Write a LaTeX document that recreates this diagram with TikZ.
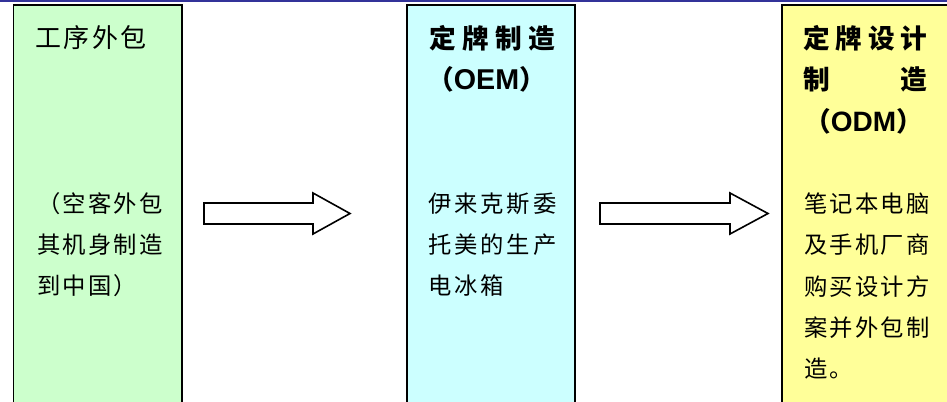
\documentclass[tikz,border=0pt]{standalone}
\usepackage{fontspec}
\newfontfamily\cjk{Noto Sans CJK SC}
\newfontfamily\arl{Liberation Sans}
\newdimen\pxu \pxu=0.75pt
\def\spcEnd{}
\def\spc#1#2{\def\spcw{#1}\spcA#2\spcEnd}
\def\spcA#1{\ifx#1\spcEnd\else\makebox[\spcw][l]{#1}\expandafter\spcA\fi}
\definecolor{gbox}{HTML}{CCFFCC}
\definecolor{cbox}{HTML}{CCFFFF}
\definecolor{ybox}{HTML}{FFFF99}
\definecolor{topline}{HTML}{333399}
\tikzset{
  colbox/.style={draw=black,line width=1.6\pxu},
  blockarrow/.style={draw=black,fill=white,line width=1.6\pxu,line join=miter},
  bodytxt/.style={anchor=west,inner sep=0pt,font=\cjk\fontsize{17.5}{20}\selectfont},
  gtitle/.style={anchor=west,inner sep=0pt,font=\cjk\fontsize{19.5}{22}\selectfont},
  btitle/.style={anchor=west,inner sep=0pt,font=\cjk\bfseries\fontsize{20}{24}\selectfont},
}
\begin{document}
\begin{tikzpicture}[x=0.75pt,y=-0.75pt]
\useasboundingbox (0,0) rectangle (947,401);
\fill[white] (0,0) rectangle (947,401);
\fill[topline] (0,0) rectangle (947,2);
% boxes
\filldraw[colbox,fill=gbox] (13.5,5) rectangle (182,410);
\filldraw[colbox,fill=cbox] (407,5) rectangle (575,410);
\filldraw[colbox,fill=ybox] (782,5) rectangle (960,410);
% arrows
\filldraw[blockarrow] (204,203) -- (313,203) -- (313,193) -- (350,213.5) -- (313,234) -- (313,224) -- (204,224) -- cycle;
\filldraw[blockarrow] (600,203) -- (730,203) -- (730,193) -- (768,213.5) -- (730,234) -- (730,224) -- (600,224) -- cycle;
% green box text
\node[gtitle] (gt) at (35,38) {\spc{28.5\pxu}{工序外包}};
\node[bodytxt] (g1) at (37,204) {\spc{25.5\pxu}{（空客外包}};
\node[bodytxt] (g2) at (37,245) {\spc{25.5\pxu}{其机身制造}};
\node[bodytxt] (g3) at (37,286) {\spc{25.5\pxu}{到中国）}};
% cyan box text
\node[btitle] (ct) at (429,38) {\spc{33\pxu}{定牌制造}};
\node[btitle] (co) at (427,79) {（{\arl\fontsize{21.5}{24}\selectfont OEM}）};
\node[bodytxt] (c1) at (428,204) {\spc{26.2\pxu}{伊来克斯委}};
\node[bodytxt] (c2) at (428,245) {\spc{26.2\pxu}{托美的生产}};
\node[bodytxt] (c3) at (428,286) {\spc{26.2\pxu}{电冰箱}};
% yellow box text
\node[btitle] (yt) at (803,38) {\spc{32.5\pxu}{定牌设计}};
\node[btitle] (ym) at (803,79) {\makebox[124\pxu][l]{制\hfill 造}};
\node[btitle] (yo) at (804,121) {（{\arl\fontsize{21}{24}\selectfont ODM}）};
\node[bodytxt] (y1) at (804,204) {\spc{25.5\pxu}{笔记本电脑}};
\node[bodytxt] (y2) at (804,245) {\spc{25.5\pxu}{及手机厂商}};
\node[bodytxt] (y3) at (804,287) {\spc{25.5\pxu}{购买设计方}};
\node[bodytxt] (y4) at (804,328) {\spc{25.5\pxu}{案并外包制}};
\node[bodytxt] (y5) at (804,369) {\spc{25.5\pxu}{造。}};
\end{tikzpicture}
\end{document}
